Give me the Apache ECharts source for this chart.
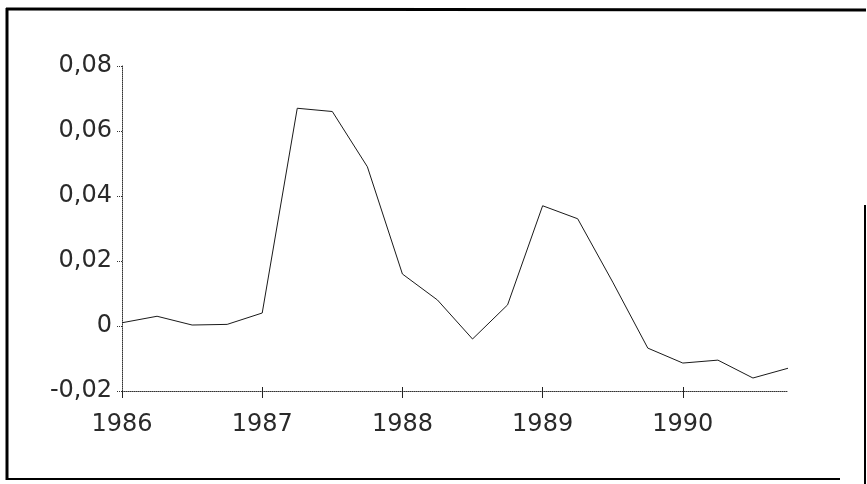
<!DOCTYPE html>
<html>
<head>
<meta charset="utf-8">
<script src="https://cdn.jsdelivr.net/npm/echarts@6/dist/echarts.min.js"></script>
<style>
html,body{margin:0;padding:0;background:#fff;}
#chart{width:867px;height:484px;}
</style>
</head>
<body>
<div id="chart"></div>
<script>
// Quarterly time points (year fractions)
const times = [1986, 1986.25, 1986.5, 1986.75,
               1987, 1987.25, 1987.5, 1987.75,
               1988, 1988.25, 1988.5, 1988.75,
               1989, 1989.25, 1989.5, 1989.75,
               1990, 1990.25, 1990.5, 1990.75];
const values = [0.001, 0.003, 0.0003, 0.0005,
                0.004, 0.067, 0.066, 0.049,
                0.016, 0.008, -0.004, 0.0065,
                0.037, 0.033, 0.0135, -0.0068,
                -0.0114, -0.0105, -0.016, -0.013];
const yearTicks = [1986, 1987, 1988, 1989, 1990];
const yTicks = [-0.02, 0, 0.02, 0.04, 0.06, 0.08];

const seriesData = times.map((t, i) => [t, values[i]]);
const font = 'DejaVu Sans';

const chart = echarts.init(document.getElementById('chart'), null, {renderer: 'canvas'});
chart.setOption({
  animation: false,
  backgroundColor: '#fff',
  grid: {left: 122, right: 79, top: 66, bottom: 93},
  xAxis: [{
    type: 'value',
    min: 1986,
    max: 1990.75,
    interval: 1,
    splitLine: {show: false},
    axisLine: {show: true, onZero: false, lineStyle: {color: '#333', width: 1, type: 'dotted'}},
    axisTick: {show: true, inside: false, length: 7, customValues: yearTicks,
               lineStyle: {color: '#222', width: 1}},
    axisLabel: {show: true, customValues: yearTicks, margin: 22,
                color: '#2a2a2a', fontFamily: font, fontSize: 24,
                formatter: v => String(v)}
  }, {
    type: 'value',
    min: 1986,
    max: 1990.75,
    interval: 1,
    position: 'bottom',
    splitLine: {show: false},
    axisLine: {show: false, onZero: false},
    axisTick: {show: true, inside: true, length: 4, customValues: yearTicks.slice(1),
               lineStyle: {color: '#222', width: 1}},
    axisLabel: {show: false}
  }],
  yAxis: {
    type: 'value',
    min: -0.02,
    max: 0.08,
    interval: 0.02,
    splitLine: {show: false},
    axisLine: {show: true, onZero: false, lineStyle: {color: '#333', width: 1, type: 'dotted'}},
    axisTick: {show: true, inside: false, length: 5, customValues: yTicks,
               lineStyle: {color: '#333', width: 1, type: 'dotted'}},
    axisLabel: {show: true, customValues: yTicks, margin: 10,
                color: '#2a2a2a', fontFamily: font, fontSize: 24,
                formatter: v => {
                  const r = Math.round(v * 100) / 100;
                  if (r === 0) return '0';
                  return r.toFixed(2).replace('.', ',');
                }}
  },
  series: [{
    type: 'line',
    xAxisIndex: 0,
    data: seriesData,
    symbol: 'none',
    lineStyle: {color: '#1a1a1a', width: 1}
  }],
  graphic: [
    {type: 'line', shape: {x1: 6, y1: 9, x2: 866, y2: 10}, style: {stroke: '#000', lineWidth: 3}, silent: true},
    {type: 'line', shape: {x1: 7, y1: 8, x2: 7, y2: 480}, style: {stroke: '#000', lineWidth: 3}, silent: true},
    {type: 'line', shape: {x1: 6, y1: 479, x2: 840, y2: 479}, style: {stroke: '#000', lineWidth: 2}, silent: true},
    {type: 'line', shape: {x1: 865, y1: 205, x2: 865, y2: 484}, style: {stroke: '#000', lineWidth: 2}, silent: true}
  ]
});
</script>
</body>
</html>
